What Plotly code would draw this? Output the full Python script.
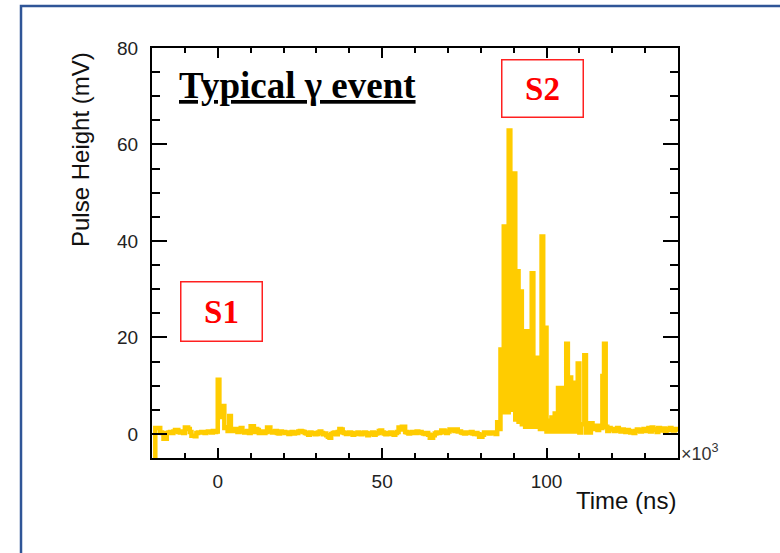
import numpy as np
import plotly.graph_objects as go

# Waveform: pulse height (mV) in 0.5 x10^3 ns bins starting at t = -20 (x10^3 ns)
bin_width = 0.5
t_start = -20.0
pulse_mv = [
    # -20 .. -15.5
    -5.5, -5.5, 1.2, 1.2, 1.2, 0.3, 0.2, -1.0, -1.0, 0.2,
    # -15 .. -10.5
    0.3, 0.4, 0.2, 0.5, 0.8, 0.8, 0.4, 0.3, 0.5, 0.2,
    # -10 .. -5.5
    1.3, 1.3, 1.0, 0.4, -0.4, -0.4, -0.5, 0.2, 0.3, 0.3,
    # -5 .. -0.5
    0.4, 0.3, 0.2, 0.4, 0.5, 0.4, 0.3, 0.6, 0.4, 0.5,
    # 0 .. 4.5  (S1)
    11.2, 3.5, 3.5, 5.8, 1.2, 1.4, 0.6, 3.7, 0.8, 0.6,
    # 5 .. 9.5
    1.0, 0.9, 0.4, 1.0, 1.2, 0.5, 0.3, 0.4, 0.6, 0.2,
    # 10 .. 14.5
    1.6, 1.6, 0.4, 1.0, 0.8, 0.2, 0.3, 0.5, 0.2, 0.4,
    # 15 .. 19.5
    1.3, 1.3, 0.5, 0.3, 0.4, 0.6, 0.2, 0.1, 0.5, 0.3,
    # 20 .. 24.5
    0.4, 0.2, 0.3, 0.0, 0.2, 0.4, 0.1, 0.3, 0.2, 0.5,
    # 25 .. 29.5
    0.6, 0.5, 0.4, 0.2, 0.1, -0.2, 0.3, 0.1, 0.2, -0.1,
    # 30 .. 34.5
    0.0, 0.3, 0.5, 0.2, -0.1, 0.1, -0.3, -0.6, -0.8, 0.0,
    # 35 .. 39.5
    0.2, 0.3, -0.1, 0.4, 1.0, 0.9, 0.3, 0.2, 0.0, 0.1,
    # 40 .. 44.5
    0.3, 0.2, -0.2, 0.1, 0.0, 0.3, 0.2, -0.1, 0.1, 0.3,
    # 45 .. 49.5
    0.2, -0.3, 0.0, 0.1, 0.3, -0.2, 0.1, 0.2, 0.6, 0.7,
    # 50 .. 54.5
    0.3, 0.1, -0.1, 0.2, 0.0, 0.3, 0.1, -0.2, 0.2, 0.4,
    # 55 .. 59.5
    1.3, 0.9, 1.5, 1.5, 0.4, 0.3, 0.1, 0.2, 0.4, 0.3,
    # 60 .. 64.5
    0.2, 0.5, 0.3, 0.4, 0.2, 0.1, 0.0, 0.2, -0.2, -0.8,
    # 65 .. 69.5
    -0.8, -0.3, 0.1, 0.3, 0.2, 0.3, 0.7, 0.7, 0.4, 0.2,
    # 70 .. 74.5
    0.5, 0.9, 0.9, 0.8, 0.6, 0.9, 0.5, 0.5, 0.3, 0.2,
    # 75 .. 79.5
    0.1, 0.3, 0.2, 0.3, 0.4, 0.1, 0.0, 0.2, -0.1, -0.6,
    # 80 .. 84.5
    -0.6, -0.2, 0.3, 0.2, 0.3, 0.1, 0.3, 0.2, 0.3, 0.0,
    # 85 .. 89.5  (S2)
    2.4, 1.0, 17.5, 4.5, 43.0, 4.5, 4.5, 62.9, 46.0, 5.0,
    # 90 .. 94.5
    54.0, 3.0, 33.7, 2.5, 29.5, 2.0, 21.3, 1.5, 21.3, 1.5,
    # 95 .. 99.5
    21.3, 33.3, 1.5, 15.8, 1.5, 15.8, 1.0, 40.9, 1.0, 22.0,
    # 100 .. 104.5
    0.5, 2.7, 0.5, 3.4, 0.5, 4.2, 0.5, 9.5, 0.5, 9.5,
    # 105 .. 109.5
    7.9, 0.5, 18.7, 0.5, 11.7, 0.5, 10.6, 0.5, 10.6, 14.6,
    # 110 .. 114.5
    0.3, 2.0, 2.0, 16.3, 0.3, 2.2, 0.3, 2.2, 1.0, 1.5,
    # 115 .. 119.5
    1.7, 0.8, 1.7, 1.2, 12.0, 18.7, 1.5, 0.6, 1.2, 0.9,
    # 120 .. 124.5
    1.0, 0.6, 0.8, 1.2, 0.7, 0.5, 0.9, 0.6, 0.4, 0.8,
    # 125 .. 129.5
    0.6, 0.3, 0.5, 0.2, 0.6, 0.9, 0.7, 0.5, 0.8, 1.0,
    # 130 .. 134.5
    0.6, 0.9, 1.2, 0.5, 1.3, 0.8, 1.0, 0.4, 1.2, 0.9,
    # 135 .. 139.5
    0.7, 1.1, 0.6, 0.8, 1.0, 1.2, 0.8, 0.7, 1.0, 0.9,
]

x_tickvals = [0, 50, 100]
x_ticktext = ["0", "50", "100"]
y_tickvals = [0, 20, 40, 60, 80]
y_ticktext = ["0", "20", "40", "60", "80"]

t_edges = t_start + bin_width * np.arange(len(pulse_mv) + 1)
y_steps = pulse_mv + [pulse_mv[-1]]

W, H = 780, 553
L, R, T, B = 152, 102, 48, 95
PW, PH = W - L - R, H - T - B


def px(xp):
    return (xp - L) / PW


def py(yp):
    return (H - B - yp) / PH


fig = go.Figure()
fig.add_trace(go.Scatter(
    x=t_edges, y=y_steps, mode="lines",
    line=dict(color="#FFCC00", width=4.5, shape="hv", simplify=False),
    hoverinfo="skip", showlegend=False,
))

tickfont = dict(family="Liberation Sans, Arial, sans-serif", size=19, color="#222222")
axis_common = dict(
    showline=True, linecolor="black", linewidth=2, mirror="allticks",
    ticks="inside", tickcolor="black", tickwidth=2,
    showgrid=False, zeroline=False, tickfont=tickfont,
)

fig.update_xaxes(
    range=[-20, 140], tickmode="array", tickvals=x_tickvals, ticktext=x_ticktext,
    ticklen=10, ticklabelstandoff=5,
    minor=dict(dtick=10, tick0=0, ticks="inside", ticklen=5, tickwidth=2, tickcolor="black", showgrid=False),
    **axis_common,
)
fig.update_yaxes(
    range=[-5, 80], tickmode="array", tickvals=y_tickvals, ticktext=y_ticktext,
    ticklen=15, ticklabelstandoff=8,
    minor=dict(dtick=5, tick0=0, ticks="inside", ticklen=8, tickwidth=2, tickcolor="black", showgrid=False),
    **axis_common,
)

label_font = dict(family="Liberation Sans, Arial, sans-serif", size=24, color="#111111")
serif = "Liberation Serif, Times New Roman, serif"

annotations = [
    dict(text="Time (ns)", xref="paper", yref="paper", x=1.0, y=py(500),
         xanchor="right", yanchor="middle", showarrow=False, font=label_font),
    dict(text="Pulse Height (mV)", xref="paper", yref="paper", x=px(80), y=py(150),
         xanchor="center", yanchor="middle", textangle=-90, showarrow=False, font=label_font),
    dict(text="×10<sup>3</sup>", xref="paper", yref="paper", x=px(679), y=py(452),
         xanchor="left", yanchor="middle", showarrow=False,
         font=dict(family="Liberation Sans, Arial, sans-serif", size=18, color="#333333")),
    dict(text="<b><u>Typical γ event</u></b>", xref="paper", yref="paper", x=px(177), y=py(86),
         xanchor="left", yanchor="middle", showarrow=False,
         font=dict(family=serif, size=37, color="black")),
    dict(text="<b>S1</b>", xref="paper", yref="paper", x=px(221), y=py(311.5),
         xanchor="center", yanchor="middle", showarrow=False, width=80, height=58,
         bordercolor="#FF2020", borderwidth=1.5, borderpad=0,
         font=dict(family=serif, size=33, color="#FF0000")),
    dict(text="<b>S2</b>", xref="paper", yref="paper", x=px(542), y=py(88.5),
         xanchor="center", yanchor="middle", showarrow=False, width=80, height=56,
         bordercolor="#FF2020", borderwidth=1.5, borderpad=0,
         font=dict(family=serif, size=33, color="#FF0000")),
]

shapes = [
    dict(type="rect", xref="paper", yref="paper",
         x0=px(21), x1=px(790), y0=py(6), y1=py(570),
         line=dict(color="#2F5597", width=2.5), fillcolor="rgba(0,0,0,0)", layer="below"),
]

fig.update_layout(
    width=W, height=H,
    margin=dict(l=L, r=R, t=T, b=B),
    paper_bgcolor="white", plot_bgcolor="white",
    annotations=annotations, shapes=shapes,
    showlegend=False,
)

fig.write_html("out.html")
